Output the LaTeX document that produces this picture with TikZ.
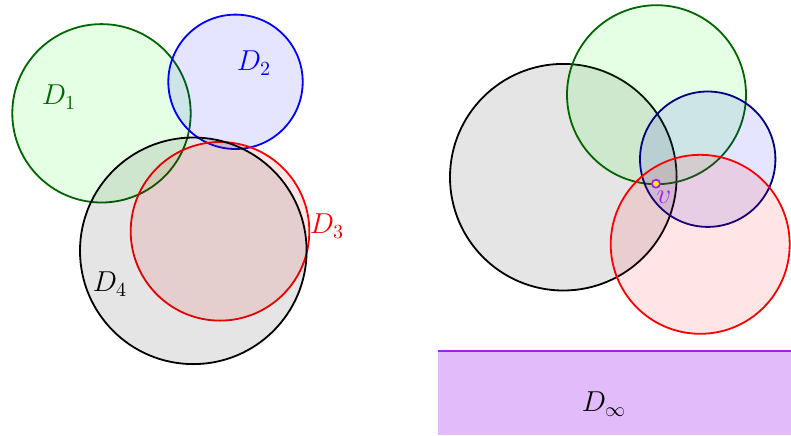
\documentclass[tikz,border=0pt]{standalone}
\usepackage{amsmath,amssymb}
\usepackage{tikz}
\definecolor{dgreen}{HTML}{006600}
\definecolor{navy}{HTML}{000080}
\definecolor{vpurple}{HTML}{A020F0}

\begin{document}
\begin{tikzpicture}[x=0.5pt,y=-0.5pt,
  disk/.style={line width=.9pt,fill opacity=.1},
  lbl/.style={font=\Large}]
  \useasboundingbox (0,0) rectangle (791,435);
  \draw[disk,draw=dgreen,fill=green] (101.5,113.3) circle[radius=89.2];
  \draw[disk,draw=blue,fill=blue] (235.5,81.8) circle[radius=67.2];
  \draw[disk,draw=red,fill=red] (220,231.3) circle[radius=89.3];
  \draw[disk,draw=black,fill=black] (193.3,250.8) circle[radius=113.3];
  \node[lbl,dgreen] (d1) at (59,97) {$D_1$};
  \node[lbl,blue] (d2) at (254,63) {$D_2$};
  \node[lbl,red] (d3) at (327,226) {$D_3$};
  \node[lbl,black] (d4) at (110,284) {$D_4$};
  \draw[disk,draw=black,fill=black] (563.3,177.2) circle[radius=113.3];
  \draw[disk,draw=dgreen,fill=green] (656.5,94.7) circle[radius=89.5];
  \draw[disk,draw=navy,fill=blue] (707.7,159.2) circle[radius=67.7];
  \draw[disk,draw=red,fill=red] (700.2,244.3) circle[radius=89.5];
  \fill[vpurple!30] (438,351) rectangle (791,435);
  \draw[vpurple,line width=.9pt] (438,351)--(791,351);
  \node[lbl] (dinf) at (604,404) {$D_\infty$};
  \draw[vpurple,fill=yellow,line width=.9pt] (656,183.7) circle[radius=4];
  \node[lbl,vpurple] (v) at (664,197) {$v$};
\end{tikzpicture}
\end{document}
